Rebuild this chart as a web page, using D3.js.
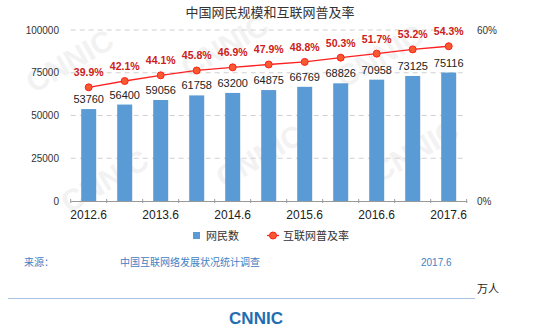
<!DOCTYPE html>
<html><head><meta charset="utf-8">
<script src="https://cdn.jsdelivr.net/npm/d3@7"></script>
<style>body{margin:0;background:#fff}svg{display:block;font-family:"Liberation Sans",Arial,"Noto Sans CJK SC",sans-serif}</style>
</head><body><svg id="c" width="535" height="327"></svg>
<script>
const categories = ["2012.6","2012.12","2013.6","2013.12","2014.6","2014.12","2015.6","2015.12","2016.6","2016.12","2017.6"];
const netizens = [53760,56400,59056,61758,63200,64875,66769,68826,70958,73125,75116];
const penetration = [39.9,42.1,44.1,45.8,46.9,47.9,48.8,50.3,51.7,53.2,54.3];
const leftTicks = [0,25000,50000,75000,100000];
const rightTicks = [0,60];
const xLabels = ["2012.6","2013.6","2014.6","2015.6","2016.6","2017.6"];

const svg = d3.select("#c");
const x = d3.scaleBand().domain(categories).range([70.7,466.7]).padding(0);
const yL = d3.scaleLinear().domain([0,100000]).range([201,30]);
const yR = d3.scaleLinear().domain([0,60]).range([201,30]);

// watermark
const wm = svg.append("g").attr("fill","#f2f2f2").attr("font-weight","bold").attr("font-size",30);
[[75,70],[230,55],[385,65],[110,190],[265,165],[420,160]].forEach(p=>{
  wm.append("text").attr("transform",`translate(${p[0]},${p[1]}) rotate(-30)`).attr("text-anchor","middle").text("CNNIC");
});

// title
svg.append("text").attr("x",270).attr("y",17).attr("text-anchor","middle").attr("font-size",13).attr("fill","#333").text("中国网民规模和互联网普及率");

// grid
svg.append("g").selectAll("line").data(leftTicks.filter(d=>d>0)).join("line")
  .attr("x1",70.7).attr("x2",466.7).attr("y1",d=>yL(d)).attr("y2",d=>yL(d))
  .attr("stroke","#d0d0d0").attr("stroke-dasharray","5,4");

// left axis
const gl = svg.append("g").attr("transform","translate(59,0)")
  .call(d3.axisLeft(yL).tickValues(leftTicks).tickSize(0).tickPadding(0).tickFormat(d3.format("d")));
gl.select(".domain").remove();
gl.selectAll("text").attr("font-size",10).attr("fill","#333").attr("font-family",null);

// right axis
const gr = svg.append("g").attr("transform","translate(477,0)")
  .call(d3.axisRight(yR).tickValues(rightTicks).tickSize(0).tickPadding(0).tickFormat(d=>d+"%"));
gr.select(".domain").remove();
gr.selectAll("text").attr("font-size",10).attr("fill","#333").attr("font-family",null);

// bars
svg.append("g").selectAll("rect").data(netizens).join("rect")
  .attr("x",(d,i)=>x(categories[i])+x.bandwidth()/2-7.5).attr("width",15)
  .attr("y",d=>yL(d)).attr("height",d=>yL(0)-yL(d)).attr("fill","#5b9bd5");
svg.append("g").selectAll("text").data(netizens).join("text")
  .attr("x",(d,i)=>x(categories[i])+x.bandwidth()/2).attr("y",d=>yL(d)-6)
  .attr("text-anchor","middle").attr("font-size",11).attr("fill","#222").text(d=>d);

// x axis
const gx = svg.append("g").attr("transform","translate(0,201)")
  .call(d3.axisBottom(x).tickValues([]).tickSize(0));
gx.select(".domain").attr("stroke","#999");
const bounds = d3.range(categories.length+1).map(i=>x.range()[0]+i*x.step());
svg.append("g").selectAll("line").data(bounds).join("line")
  .attr("x1",d=>d).attr("x2",d=>d).attr("y1",199).attr("y2",203).attr("stroke","#999");
svg.append("g").selectAll("text").data(xLabels).join("text")
  .attr("x",d=>x(d)+x.bandwidth()/2).attr("y",219).attr("text-anchor","middle")
  .attr("font-size",12).attr("fill","#222").text(d=>d);

// line
const line = d3.line().x((d,i)=>x(categories[i])+x.bandwidth()/2).y(d=>yR(d));
svg.append("path").datum(penetration).attr("d",line).attr("fill","none").attr("stroke","#ff2020").attr("stroke-width",1.3);
svg.append("g").selectAll("circle").data(penetration).join("circle")
  .attr("cx",(d,i)=>x(categories[i])+x.bandwidth()/2).attr("cy",d=>yR(d)).attr("r",3.5)
  .attr("fill","#f85a30").attr("stroke","#ff2020").attr("stroke-width",1);
svg.append("g").selectAll("text").data(penetration).join("text")
  .attr("x",(d,i)=>x(categories[i])+x.bandwidth()/2).attr("y",d=>yR(d)-11)
  .attr("text-anchor","middle").attr("font-size",10.5).attr("font-weight","bold").attr("fill","#cc2020").text(d=>d.toFixed(1)+"%");

// legend
svg.append("rect").attr("x",193).attr("y",232).attr("width",7).attr("height",7).attr("fill","#5b9bd5");
svg.append("text").attr("x",206).attr("y",240).attr("font-size",11).attr("fill","#333").text("网民数");
svg.append("line").attr("x1",267).attr("x2",279).attr("y1",235.5).attr("y2",235.5).attr("stroke","#ff2020").attr("stroke-width",1.3);
svg.append("circle").attr("cx",273).attr("cy",235.5).attr("r",3.5).attr("fill","#f85a30").attr("stroke","#ff2020");
svg.append("text").attr("x",283).attr("y",240).attr("font-size",11).attr("fill","#333").text("互联网普及率");

// footer
const fc = "#3f82c4";
svg.append("text").attr("x",24).attr("y",266).attr("font-size",10).attr("fill",fc).text("来源：");
svg.append("text").attr("x",120).attr("y",266).attr("font-size",10).attr("fill",fc).text("中国互联网络发展状况统计调查");
svg.append("text").attr("x",421).attr("y",266).attr("font-size",10).attr("fill",fc).text("2017.6");
svg.append("text").attr("x",477).attr("y",293).attr("font-size",11).attr("fill","#222").text("万人");
svg.append("line").attr("x1",8).attr("x2",475).attr("y1",298.5).attr("y2",298.5).attr("stroke","#a9c4e2");
svg.append("text").attr("x",256).attr("y",324).attr("text-anchor","middle").attr("font-size",17).attr("font-weight","bold").attr("fill","#1f6db3").text("CNNIC");
</script></body></html>
